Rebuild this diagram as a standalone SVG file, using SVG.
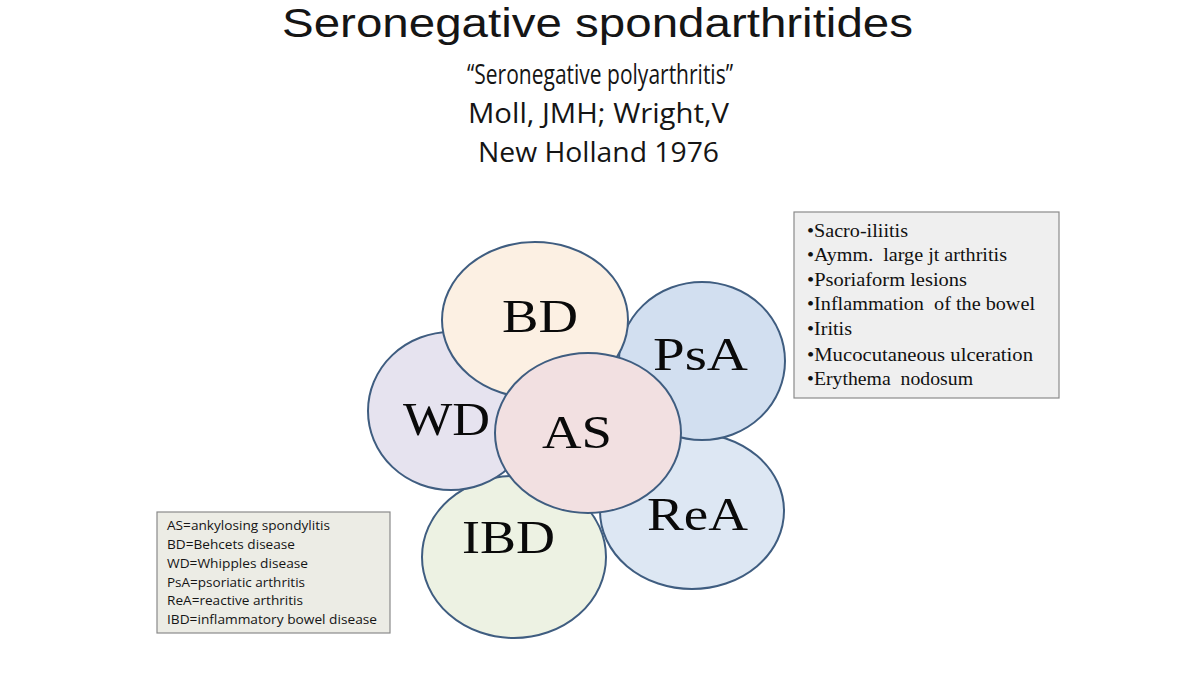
<svg xmlns="http://www.w3.org/2000/svg" width="1200" height="691" viewBox="0 0 1200 691">
<style>
.bg{fill:#ffffff}
.ttl{font-family:"Open Sans","Liberation Sans",sans-serif;fill:#151515}
.ttl1{font-family:"Liberation Sans",Arial,sans-serif;fill:#151515}
.el{stroke:#3f5d80;stroke-width:2}
.lbl{font-family:"Liberation Serif","Times New Roman",serif;font-size:47px;fill:#0a0a0a}
.box{stroke:#8a8a8a;stroke-width:1.2}
.rl{font-family:"Liberation Serif","Times New Roman",serif;font-size:19px;fill:#111}
.ll{font-family:"Open Sans","Liberation Sans",sans-serif;font-size:13.5px;fill:#151515}
</style>
<rect class="bg" x="0" y="0" width="1200" height="691"/>
<g id="title">
<text class="ttl1" x="282" y="37" font-size="40" textLength="631" lengthAdjust="spacingAndGlyphs">Seronegative spondarthritides</text>
<text class="ttl" x="467" y="84" font-size="27" textLength="266" lengthAdjust="spacingAndGlyphs">“Seronegative polyarthritis”</text>
<text class="ttl" x="468" y="123" font-size="27" textLength="261" lengthAdjust="spacingAndGlyphs">Moll, JMH; Wright,V</text>
<text class="ttl" x="478" y="162" font-size="27" textLength="241" lengthAdjust="spacingAndGlyphs">New Holland 1976</text>
</g>
<g id="node-IBD">
<ellipse class="el" cx="514" cy="557" rx="92" ry="81" fill="#edf2e3"/>
<text class="lbl" x="462" y="553" textLength="93" lengthAdjust="spacingAndGlyphs">IBD</text>
</g>
<g id="node-ReA">
<ellipse class="el" cx="692" cy="511" rx="92" ry="78" fill="#dde7f3"/>
<text class="lbl" x="647" y="530" textLength="101" lengthAdjust="spacingAndGlyphs">ReA</text>
</g>
<g id="node-PsA">
<ellipse class="el" cx="702" cy="361" rx="83" ry="79" fill="#d2dff0"/>
<text class="lbl" x="653" y="370" textLength="95" lengthAdjust="spacingAndGlyphs">PsA</text>
</g>
<g id="node-WD">
<ellipse class="el" cx="451" cy="411" rx="83" ry="79" fill="#e6e3ef"/>
<text class="lbl" x="403" y="435" textLength="87" lengthAdjust="spacingAndGlyphs">WD</text>
</g>
<g id="node-BD">
<ellipse class="el" cx="535" cy="320" rx="93" ry="78" fill="#fcf0e3"/>
<text class="lbl" x="502" y="332" textLength="76" lengthAdjust="spacingAndGlyphs">BD</text>
</g>
<g id="node-AS">
<ellipse class="el" cx="588" cy="433" rx="93" ry="80" fill="#f2e0e1"/>
<text class="lbl" x="542" y="448" textLength="70" lengthAdjust="spacingAndGlyphs">AS</text>
</g>
<g id="connectors"></g>
<g id="features-box">
<rect class="box" x="794" y="212" width="265" height="186" fill="#efefef"/>
<text class="rl" x="807" y="237" textLength="101" lengthAdjust="spacingAndGlyphs">•Sacro-iliitis</text>
<text class="rl" x="807" y="261" textLength="200" lengthAdjust="spacingAndGlyphs" xml:space="preserve">•Aymm.  large jt arthritis</text>
<text class="rl" x="807" y="286" textLength="160" lengthAdjust="spacingAndGlyphs">•Psoriaform lesions</text>
<text class="rl" x="807" y="310" textLength="228" lengthAdjust="spacingAndGlyphs" xml:space="preserve">•Inflammation  of the bowel</text>
<text class="rl" x="807" y="335" textLength="45" lengthAdjust="spacingAndGlyphs">•Iritis</text>
<text class="rl" x="807" y="361" textLength="226" lengthAdjust="spacingAndGlyphs">•Mucocutaneous ulceration</text>
<text class="rl" x="807" y="385" textLength="166" lengthAdjust="spacingAndGlyphs" xml:space="preserve">•Erythema  nodosum</text>
</g>
<g id="legend-box">
<rect class="box" x="157" y="512" width="233" height="121" fill="#ecece5"/>
<text class="ll" x="167" y="530" textLength="163" lengthAdjust="spacingAndGlyphs">AS=ankylosing spondylitis</text>
<text class="ll" x="167" y="549" textLength="128" lengthAdjust="spacingAndGlyphs">BD=Behcets disease</text>
<text class="ll" x="167" y="568" textLength="141" lengthAdjust="spacingAndGlyphs">WD=Whipples disease</text>
<text class="ll" x="167" y="587" textLength="138" lengthAdjust="spacingAndGlyphs">PsA=psoriatic arthritis</text>
<text class="ll" x="167" y="605" textLength="136" lengthAdjust="spacingAndGlyphs">ReA=reactive arthritis</text>
<text class="ll" x="167" y="624" textLength="210" lengthAdjust="spacingAndGlyphs">IBD=inflammatory bowel disease</text>
</g>
</svg>
